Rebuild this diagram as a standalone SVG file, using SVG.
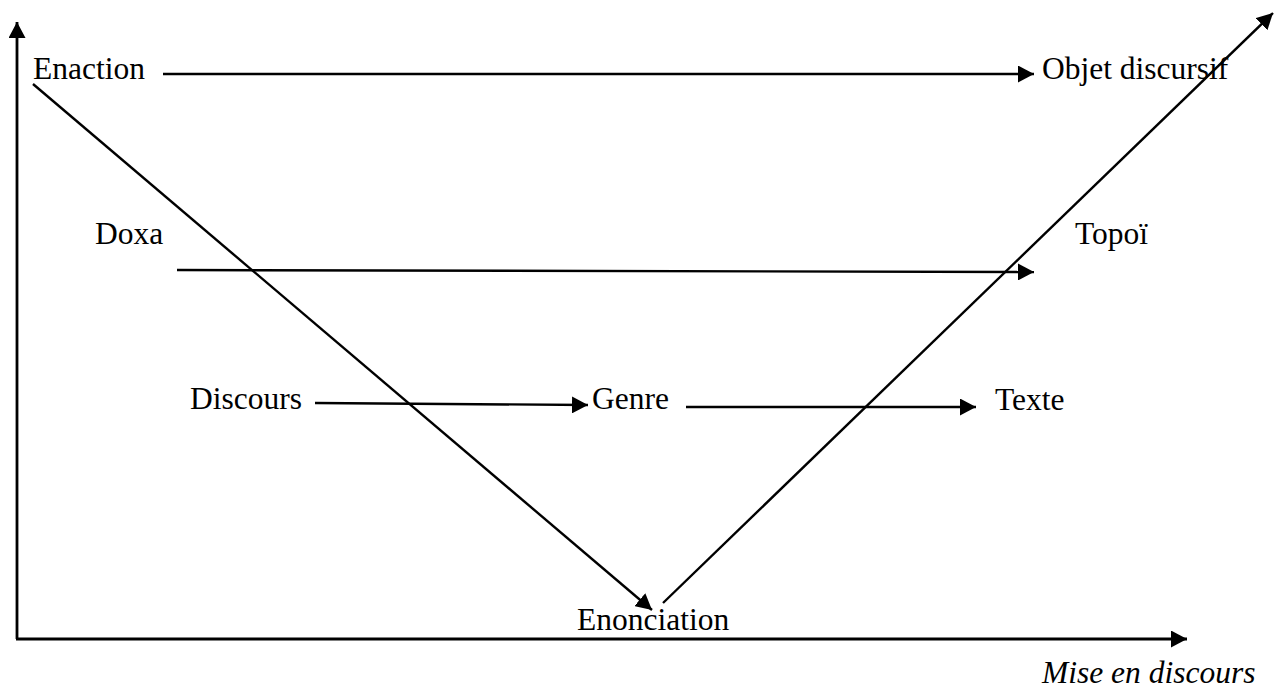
<svg xmlns="http://www.w3.org/2000/svg" width="1279" height="688" viewBox="0 0 1279 688">
<style>
text{font-family:"Liberation Serif","Times New Roman",serif;font-size:31.5px;fill:#000}
.c{stroke:#000;stroke-width:2.4;fill:none;marker-end:url(#ah)}
.ax{stroke:#000;stroke-width:2.8;fill:none;marker-end:url(#ah)}
</style>
<defs>
<marker id="ah" markerUnits="userSpaceOnUse" viewBox="0 0 16 17" markerWidth="16" markerHeight="17" refX="16" refY="8.5" orient="auto">
<path d="M0,0 L16,8.5 L0,17 Z" fill="#000"/>
</marker>
</defs>
<rect width="1279" height="688" fill="#fff"/>
<g id="connectors">
<line class="ax" x1="17" y1="639" x2="17" y2="22"/>
<line class="ax" x1="16" y1="639" x2="1187" y2="639"/>
<line class="c" x1="163" y1="74" x2="1034" y2="74"/>
<line class="c" x1="177" y1="270" x2="1034" y2="272"/>
<line class="c" x1="315" y1="403" x2="588" y2="405"/>
<line class="c" x1="686" y1="407" x2="976" y2="407"/>
<line class="c" x1="33" y1="84" x2="652" y2="610"/>
<line class="c" x1="663" y1="603" x2="1273" y2="13"/>
</g>
<g id="enaction"><text x="33" y="79">Enaction</text></g>
<g id="objet"><text x="1042" y="79">Objet discursif</text></g>
<g id="doxa"><text x="95" y="244">Doxa</text></g>
<g id="topoi"><text x="1075" y="244">Topoï</text></g>
<g id="discours"><text x="190" y="409">Discours</text></g>
<g id="genre"><text x="592" y="409">Genre</text></g>
<g id="texte"><text x="995" y="410">Texte</text></g>
<g id="enonciation"><text x="577" y="630">Enonciation</text></g>
<g id="mise"><text x="1042" y="683" font-style="italic">Mise en discours</text></g>
</svg>
